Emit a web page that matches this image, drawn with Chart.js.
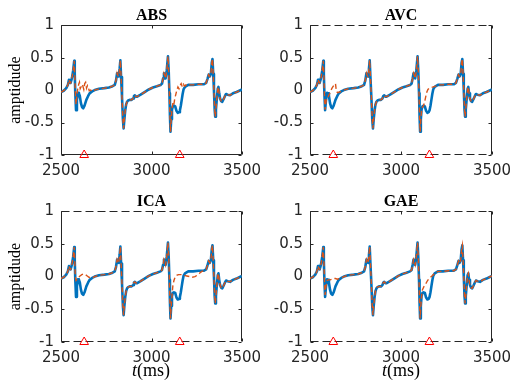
<!DOCTYPE html>
<html>
<head>
<meta charset="utf-8">
<script src="https://cdn.jsdelivr.net/npm/chart.js@4.4.1/dist/chart.umd.min.js"></script>
<style>
  body { margin: 0; width: 510px; height: 383px; position: relative; overflow: hidden; background: #fff; }
  canvas { position: absolute; }
  .xtitle { position: absolute; width: 100px; text-align: center; font: 18px "Liberation Serif", serif; line-height: 20px; color: #000; }
</style>
</head>
<body>
<canvas id="c-abs"></canvas>
<canvas id="c-avc"></canvas>
<canvas id="c-ica"></canvas>
<canvas id="c-gae"></canvas>
<div class="xtitle" style="left:101px;top:360px"><i>t</i>(ms)</div>
<div class="xtitle" style="left:351px;top:360px"><i>t</i>(ms)</div>
<script>
// axes
const xTicks = [2500, 3000, 3500];
const yTicks = [-1, -0.5, 0, 0.5, 1];
const yTickLabels = ["-1", "-0.5", "0", "0.5", "1"];

// red triangle markers, sitting on the -1 line
const markerT = [2628, 3156];
const markerY = -1;

// measured signal (blue), [t ms, amplitude]
const blueSignal = [
  [2500, -0.03], [2515, -0.01], [2529, 0.03], [2538, 0.08], [2544, 0.16], [2549, 0.12],
  [2553, 0.11], [2558, 0.16], [2562, 0.21], [2567, 0.30], [2573, 0.45], [2576, 0.25],
  [2579, -0.05], [2583, -0.31], [2588, -0.15], [2594, -0.04], [2599, -0.05], [2604, -0.09],
  [2610, -0.20], [2616, -0.26], [2623, -0.28], [2630, -0.24], [2640, -0.15], [2650, -0.09],
  [2658, -0.05], [2672, -0.02], [2686, 0.00], [2710, 0.02], [2740, 0.03], [2765, 0.04],
  [2785, 0.06], [2797, 0.08], [2804, 0.15], [2810, 0.26], [2815, 0.22], [2819, 0.21],
  [2824, 0.33], [2828, 0.46], [2832, 0.20], [2837, -0.10], [2842, -0.45], [2846, -0.59],
  [2850, -0.45], [2855, -0.31], [2860, -0.22], [2865, -0.18], [2871, -0.16], [2879, -0.15],
  [2890, -0.15], [2898, -0.13], [2903, -0.09], [2908, -0.08], [2914, -0.10], [2921, -0.10],
  [2940, -0.07], [2962, -0.03], [2985, 0.01], [3008, 0.04], [3030, 0.06], [3050, 0.08],
  [3058, 0.10], [3064, 0.18], [3069, 0.26], [3074, 0.22], [3078, 0.18], [3084, 0.30],
  [3091, 0.52], [3095, 0.30], [3099, -0.05], [3102, -0.40], [3105, -0.64], [3109, -0.45],
  [3113, -0.30], [3118, -0.25], [3124, -0.24], [3131, -0.25], [3138, -0.32], [3145, -0.35],
  [3152, -0.34], [3157, -0.31], [3162, -0.24], [3167, -0.15], [3172, -0.06], [3177, 0.01],
  [3185, 0.05], [3203, 0.08], [3230, 0.08], [3260, 0.09], [3290, 0.09], [3302, 0.11],
  [3309, 0.17], [3316, 0.24], [3322, 0.21], [3328, 0.25], [3333, 0.42], [3337, 0.48],
  [3341, 0.25], [3345, 0.00], [3349, -0.30], [3352, -0.41], [3356, -0.30], [3361, -0.13],
  [3366, 0.02], [3370, 0.05], [3374, -0.05], [3379, -0.13], [3385, -0.17], [3391, -0.18],
  [3398, -0.14], [3406, -0.09], [3412, -0.06], [3420, -0.07], [3434, -0.08], [3450, -0.05],
  [3470, -0.03], [3485, -0.01], [3500, 0.01]
];

// reconstructions (orange dashed): where they leave the blue trace
const absFix1 = [[2579, -0.02], [2583, -0.22], [2588, -0.08], [2593, 0.03], [2598, 0.09], [2602, 0.12], [2606, 0.02], [2611, 0.05], [2616, 0.09], [2621, 0.06], [2626, 0.01], [2631, 0.10], [2636, 0.12], [2641, 0.03], [2646, 0.07], [2651, 0.04], [2656, -0.01], [2664, 0.00], [2672, -0.02]];
const absFix2 = [[3109, -0.45], [3113, -0.30], [3118, -0.20], [3123, -0.23], [3128, -0.14], [3134, -0.07], [3140, 0.00], [3146, 0.05], [3152, 0.02], [3158, 0.07], [3164, 0.10], [3170, 0.05], [3176, 0.09], [3183, 0.06], [3190, 0.08], [3197, 0.07]];
const avcFix1 = [[2579, -0.05], [2583, -0.30], [2588, -0.18], [2594, -0.10], [2600, -0.10], [2607, -0.06], [2614, -0.01], [2621, 0.03], [2628, 0.06], [2635, 0.09], [2640, 0.10], [2645, -0.02], [2652, -0.04], [2660, -0.03], [2672, -0.02]];
const avcFix2 = [[3109, -0.45], [3113, -0.32], [3118, -0.26], [3124, -0.24], [3130, -0.18], [3136, -0.10], [3142, -0.03], [3148, 0.01], [3155, 0.03], [3165, 0.04], [3178, 0.05], [3190, 0.06], [3197, 0.07]];
const icaFix1 = [[2579, 0.00], [2583, -0.06], [2590, -0.04], [2597, -0.01], [2605, 0.01], [2615, 0.03], [2625, 0.04], [2635, 0.03], [2645, 0.01], [2655, -0.01], [2665, -0.02], [2672, -0.02]];
const icaFix2 = [[3109, -0.45], [3113, -0.30], [3118, -0.14], [3124, -0.06], [3130, -0.01], [3138, 0.02], [3150, 0.03], [3165, 0.03], [3180, 0.02], [3195, 0.01], [3210, 0.00], [3225, -0.01], [3240, 0.00], [3252, 0.02], [3265, 0.05], [3278, 0.08], [3292, 0.09]];
const gaeFix1 = [[2579, -0.02], [2583, -0.28], [2588, -0.14], [2594, -0.06], [2600, -0.05], [2610, -0.05], [2620, -0.04], [2630, -0.03], [2640, -0.03], [2650, -0.04], [2660, -0.03], [2672, -0.02]];
const gaeFix2 = [[3109, -0.45], [3113, -0.30], [3118, -0.20], [3123, -0.17], [3130, -0.13], [3138, -0.10], [3146, -0.06], [3154, -0.03], [3162, -0.01], [3170, 0.01], [3178, 0.03], [3190, 0.06], [3197, 0.07]];

const panels = [
  { id: "c-abs", title: "ABS", left: 0, top: 0, w: 280, h: 186, yw: 61, xh: 31, pr: 38, yLabel: true, dashed: false, fixes: [absFix1, absFix2] },
  { id: "c-avc", title: "AVC", left: 255, top: 0, w: 280, h: 186, yw: 55, xh: 31, pr: 43, yLabel: false, dashed: true, fixes: [avcFix1, avcFix2] },
  { id: "c-ica", title: "ICA", left: 0, top: 186, w: 280, h: 197, yw: 61, xh: 41, pr: 38, yLabel: true, dashed: true, fixes: [icaFix1, icaFix2] },
  { id: "c-gae", title: "GAE", left: 255, top: 186, w: 280, h: 197, yw: 55, xh: 41, pr: 43, yLabel: false, dashed: true, fixes: [gaeFix1, gaeFix2] },
];

// orange = blue outside the fix spans, fix points inside them
function withFixes(fixes) {
  const pts = blueSignal.filter(([t]) => !fixes.some((f) => t >= f[0][0] && t <= f[f.length - 1][0]));
  fixes.forEach((f) => pts.push(...f));
  return pts.sort((a, b) => a[0] - b[0]).map(([t, v]) => ({ x: t, y: v }));
}

// box with inward ticks; top/bottom dashed on some panels
const framePlugin = {
  id: "frame",
  beforeDatasetsDraw(chart, args, opts) {
    const { ctx, chartArea: a } = chart;
    const xs = chart.scales.x, ys = chart.scales.y;
    const L = Math.round(a.left) + 0.5, R = Math.round(a.right) - 0.5;
    const T = Math.round(a.top) + 0.5, B = Math.round(a.bottom) - 0.5;
    const seg = (x1, y1, x2, y2) => { ctx.beginPath(); ctx.moveTo(x1, y1); ctx.lineTo(x2, y2); ctx.stroke(); };
    ctx.save();
    ctx.strokeStyle = "#262626";
    ctx.lineWidth = 1;
    seg(L, T, L, B);
    seg(R, T, R, B);
    xTicks.forEach((v) => {
      const px = Math.round(xs.getPixelForValue(v)) + 0.5;
      seg(px, B, px, B - 3);
      seg(px, T, px, T + 3);
    });
    yTicks.forEach((v) => {
      const py = Math.round(ys.getPixelForValue(v)) + 0.5;
      seg(L, py, L + 3, py);
      seg(R, py, R - 3, py);
    });
    if (opts.dashed) ctx.setLineDash([8, 4]);
    seg(L, T, R, T);
    seg(L, B, R, B);
    ctx.restore();
  },
};

panels.forEach((p) => {
  const canvas = document.getElementById(p.id);
  canvas.width = p.w;
  canvas.height = p.h;
  canvas.style.left = p.left + "px";
  canvas.style.top = p.top + "px";

  new Chart(canvas, {
    type: "line",
    data: {
      datasets: [
        {
          data: markerT.map((t) => ({ x: t, y: markerY })),
          showLine: false,
          pointStyle: "triangle",
          pointRadius: 5,
          pointBorderColor: "#ff0000",
          pointBackgroundColor: "rgba(255,255,255,0)",
          pointBorderWidth: 1,
          clip: false,
        },
        {
          data: withFixes(p.fixes),
          borderColor: "#d95319",
          borderWidth: 1.4,
          borderDash: [5, 3],
          pointRadius: 0,
          fill: false,
        },
        {
          data: blueSignal.map(([t, v]) => ({ x: t, y: v })),
          borderColor: "#0072bd",
          borderWidth: 2.6,
          borderJoinStyle: "round",
          pointRadius: 0,
          fill: false,
        },
      ],
    },
    options: {
      responsive: false,
      animation: false,
      devicePixelRatio: 1,
      layout: { padding: { left: 0, right: p.pr, top: 0, bottom: 0 } },
      plugins: {
        legend: { display: false },
        tooltip: { enabled: false },
        title: {
          display: true,
          text: p.title,
          fullSize: false,
          color: "#000",
          font: { family: "'Liberation Serif', serif", size: 16, weight: "bold", lineHeight: 1.2 },
          padding: { top: 6, bottom: 0 },
        },
        frame: { dashed: p.dashed },
      },
      scales: {
        x: {
          type: "linear",
          min: 2500,
          max: 3500,
          afterBuildTicks: (s) => { s.ticks = xTicks.map((v) => ({ value: v })); },
          afterFit: (s) => { s.height = p.xh; },
          grid: { display: false, drawTicks: false },
          border: { display: false },
          ticks: {
            padding: 7,
            maxRotation: 0,
            color: "#262626",
            font: { family: "'DejaVu Sans', sans-serif", size: 15 },
            callback: (v) => String(v),
          },
        },
        y: {
          min: -1,
          max: 1,
          afterBuildTicks: (s) => { s.ticks = yTicks.map((v) => ({ value: v })); },
          afterFit: (s) => { s.width = p.yw; },
          grid: { display: false, drawTicks: false },
          border: { display: false },
          ticks: {
            padding: 7,
            color: "#262626",
            font: { family: "'DejaVu Sans', sans-serif", size: 15 },
            callback: (v) => yTickLabels[yTicks.indexOf(v)],
          },
          title: {
            display: p.yLabel,
            text: "amptidude",
            color: "#000",
            font: { family: "'Liberation Serif', serif", size: 16, lineHeight: 1.2 },
            padding: { top: 6, bottom: 0 },
          },
        },
      },
    },
    plugins: [framePlugin],
  });
});
</script>
</body>
</html>
